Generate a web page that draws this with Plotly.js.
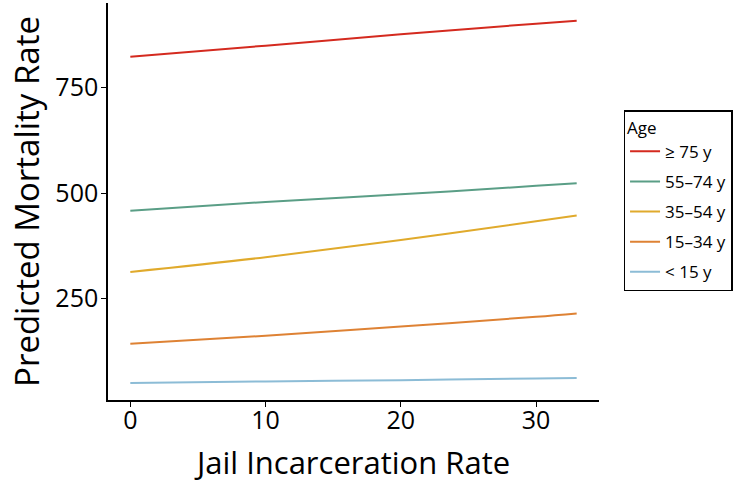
<!DOCTYPE html>
<html>
<head>
<meta charset="utf-8">
<script src="https://cdn.plot.ly/plotly-3.0.1.min.js"></script>
<style>body{margin:0;padding:0;background:#fff}</style>
</head>
<body>
<div id="graphDiv" style="width:749px;height:484px"></div>
<script>
var jail = [0, 10, 20, 30, 33];

var age75 = [823, 849, 876, 901, 908];
var age55 = [458, 479, 497, 517, 523];
var age35 = [313, 348, 389, 433, 447];
var age15 = [143, 162, 184, 207, 215];
var ageU15 = [50, 54, 57, 61, 62];

var names = ['\u2265 75 y', '55\u201374 y', '35\u201354 y', '15\u201334 y', '< 15 y'];
var colors = ['#D42A1F', '#5A9E86', '#E0AA2C', '#DE8234', '#8CBCD6'];
var series = [age75, age55, age35, age15, ageU15];

var data = series.map(function (s, i) {
    return {
        x: jail,
        y: s,
        name: names[i],
        legendgroup: 'g' + i,
        type: 'scatter',
        mode: 'lines',
        line: {color: colors[i], width: 2, shape: 'spline'}
    };
});

var layout = {
    width: 749,
    height: 484,
    margin: {l: 108, r: 150, t: 3, b: 84},
    paper_bgcolor: '#fff',
    plot_bgcolor: '#fff',
    font: {family: 'Open Sans, Noto Sans, sans-serif', color: '#000'},
    showlegend: true,
    xaxis: {
        range: [-1.65, 34.65],
        tickvals: [0, 10, 20, 30],
        showgrid: false,
        zeroline: false,
        showline: true,
        linecolor: '#000',
        linewidth: 1.5,
        ticks: 'outside',
        ticklen: 5,
        tickcolor: '#000',
        tickfont: {size: 25},
        ticklabelstandoff: -8,
        title: {text: 'Jail Incarceration Rate', font: {size: 31}, standoff: 18}
    },
    yaxis: {
        range: [10, 950],
        tickvals: [250, 500, 750],
        showgrid: false,
        zeroline: false,
        showline: true,
        linecolor: '#000',
        linewidth: 1.5,
        ticks: 'outside',
        ticklen: 5,
        tickcolor: '#000',
        tickfont: {size: 25},
        ticklabelstandoff: -2,
        title: {text: 'Predicted Mortality Rate', font: {size: 33}, standoff: 6}
    },
    legend: {
        x: 1.05, xanchor: 'left',
        y: 0.73, yanchor: 'top',
        bordercolor: '#000',
        borderwidth: 1.5,
        font: {size: 17},
        traceorder: 'grouped',
        tracegroupgap: 5,
        title: {text: 'Age', font: {size: 17}}
    }
};

Plotly.newPlot('graphDiv', data, layout, {displayModeBar: false});
</script>
</body>
</html>
